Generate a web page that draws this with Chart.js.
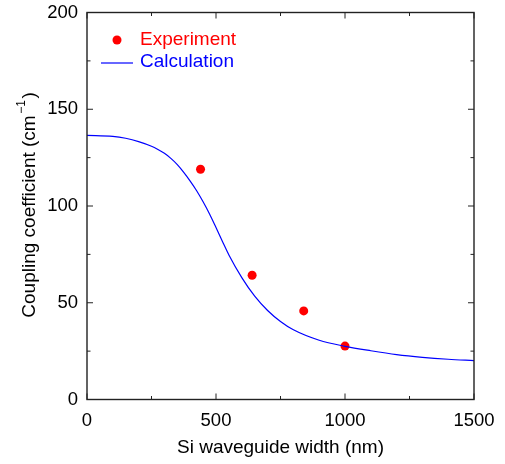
<!DOCTYPE html>
<html>
<head>
<meta charset="utf-8">
<script src="https://cdn.jsdelivr.net/npm/chart.js@4"></script>
<style>
  html, body { margin: 0; padding: 0; background: #fff; }
  #wrap { width: 505px; height: 464px; }
</style>
</head>
<body>
<div id="wrap"><canvas id="grafico" width="505" height="464"></canvas></div>
<script>
// dados
const expX = [440, 640, 840, 1000];
const expY = [119, 64.2, 45.8, 27.6];

const calcX = [0, 100, 150, 200, 250, 275, 300, 325, 350, 375, 400, 425, 450, 475, 500, 525, 550, 600, 650, 700, 750, 800, 900, 1000, 1100, 1200, 1300, 1400, 1500];
const calcY = [136.5, 136, 135, 133.3, 130.9, 129.2, 127.2, 124.6, 121.4, 117.4, 112.9, 107.9, 102.2, 95.9, 88.9, 81.7, 74.7, 63, 53.4, 46, 40.3, 36, 30.6, 27.5, 25.2, 23.2, 21.8, 20.8, 20.1];

const xTicks = [0, 500, 1000, 1500];
const yTicks = [0, 50, 100, 150, 200];
const xMinor = [250, 750, 1250];
const yMinor = [25, 75, 125, 175];

const FONTE = '"Liberation Sans", Arial, sans-serif';

// moldura com ticks para dentro nos 4 lados + titulos dos eixos + legenda
const molduraPlugin = {
  id: 'moldura',
  afterDatasetsDraw(chart) {
    const { ctx, chartArea: a, scales } = chart;
    const sx = scales.x, sy = scales.y;
    ctx.save();
    ctx.strokeStyle = '#222';
    ctx.lineWidth = 1.4;
    ctx.strokeRect(a.left, a.top, a.right - a.left, a.bottom - a.top);

    ctx.lineWidth = 1;
    const tick = (vals, len) => {
      vals.forEach(v => {
        const px = sx.getPixelForValue(v);
        ctx.beginPath();
        ctx.moveTo(px, a.bottom); ctx.lineTo(px, a.bottom - len);
        ctx.moveTo(px, a.top); ctx.lineTo(px, a.top + len);
        ctx.stroke();
      });
    };
    const tickY = (vals, len) => {
      vals.forEach(v => {
        const py = sy.getPixelForValue(v);
        ctx.beginPath();
        ctx.moveTo(a.left, py); ctx.lineTo(a.left + len, py);
        ctx.moveTo(a.right, py); ctx.lineTo(a.right - len, py);
        ctx.stroke();
      });
    };
    tick(xTicks, 6); tick(xMinor, 3.5);
    tickY(yTicks, 6); tickY(yMinor, 3.5);

    // titulo eixo x
    ctx.fillStyle = '#000';
    ctx.font = '19px ' + FONTE;
    ctx.textAlign = 'center';
    ctx.textBaseline = 'middle';
    ctx.fillText('Si waveguide width (nm)', (a.left + a.right) / 2, 448);

    // titulo eixo y com expoente
    const t1 = 'Coupling coefficient (cm';
    const sup = '\u22121';
    const t2 = ')';
    ctx.font = '19px ' + FONTE;
    const w1 = ctx.measureText(t1).width;
    const w3 = ctx.measureText(t2).width;
    ctx.font = '12px ' + FONTE;
    const w2 = ctx.measureText(sup).width + 3;
    const total = w1 + w2 + w3;
    ctx.translate(30, 205);
    ctx.rotate(-Math.PI / 2);
    ctx.textAlign = 'left';
    let x0 = -total / 2;
    ctx.font = '19px ' + FONTE;
    ctx.fillText(t1, x0, 0);
    ctx.font = '12px ' + FONTE;
    ctx.fillText(sup, x0 + w1 + 1.5, -8);
    ctx.font = '19px ' + FONTE;
    ctx.fillText(t2, x0 + w1 + w2, 0);
    ctx.restore();

    // legenda
    ctx.save();
    ctx.fillStyle = '#ff0000';
    ctx.beginPath();
    ctx.arc(117, 40, 4.5, 0, Math.PI * 2);
    ctx.fill();
    ctx.font = '19px ' + FONTE;
    ctx.textBaseline = 'middle';
    ctx.fillText('Experiment', 140, 40);
    ctx.strokeStyle = '#0000ff';
    ctx.lineWidth = 1.2;
    ctx.beginPath();
    ctx.moveTo(101, 63); ctx.lineTo(133, 63);
    ctx.stroke();
    ctx.fillStyle = '#0000ff';
    ctx.fillText('Calculation', 140, 62);
    ctx.restore();
  }
};

const ctx = document.getElementById('grafico');
new Chart(ctx, {
  type: 'scatter',
  data: {
    datasets: [
      {
        label: 'Calculation',
        data: calcX.map((x, i) => ({ x, y: calcY[i] })),
        showLine: true,
        borderColor: '#0000ff',
        borderWidth: 1.2,
        pointRadius: 0,
        cubicInterpolationMode: 'monotone',
        fill: false
      },
      {
        label: 'Experiment',
        data: expX.map((x, i) => ({ x, y: expY[i] })),
        backgroundColor: '#ff0000',
        borderWidth: 0,
        pointRadius: 4.5
      }
    ]
  },
  plugins: [molduraPlugin],
  options: {
    responsive: false,
    animation: false,
    layout: { padding: { top: 12.5, right: 31, left: 0, bottom: 0 } },
    plugins: { legend: { display: false }, tooltip: { enabled: false } },
    scales: {
      x: {
        type: 'linear', min: 0, max: 1500,
        afterBuildTicks: s => { s.ticks = xTicks.map(v => ({ value: v })); },
        afterFit: s => { s.height = 64.5; s.paddingLeft = 0; s.paddingRight = 0; },
        grid: { display: false, drawTicks: false },
        border: { display: false },
        ticks: { color: '#000', padding: 10, font: { size: 18.5, family: FONTE }, maxRotation: 0, callback: v => String(v) }
      },
      y: {
        type: 'linear', min: 0, max: 200,
        afterBuildTicks: s => { s.ticks = yTicks.map(v => ({ value: v })); },
        afterFit: s => { s.width = 87; s.paddingTop = 0; s.paddingBottom = 0; },
        grid: { display: false, drawTicks: false },
        border: { display: false },
        ticks: { color: '#000', padding: 9, font: { size: 18.5, family: FONTE }, callback: v => String(v) }
      }
    }
  }
});
</script>
</body>
</html>
